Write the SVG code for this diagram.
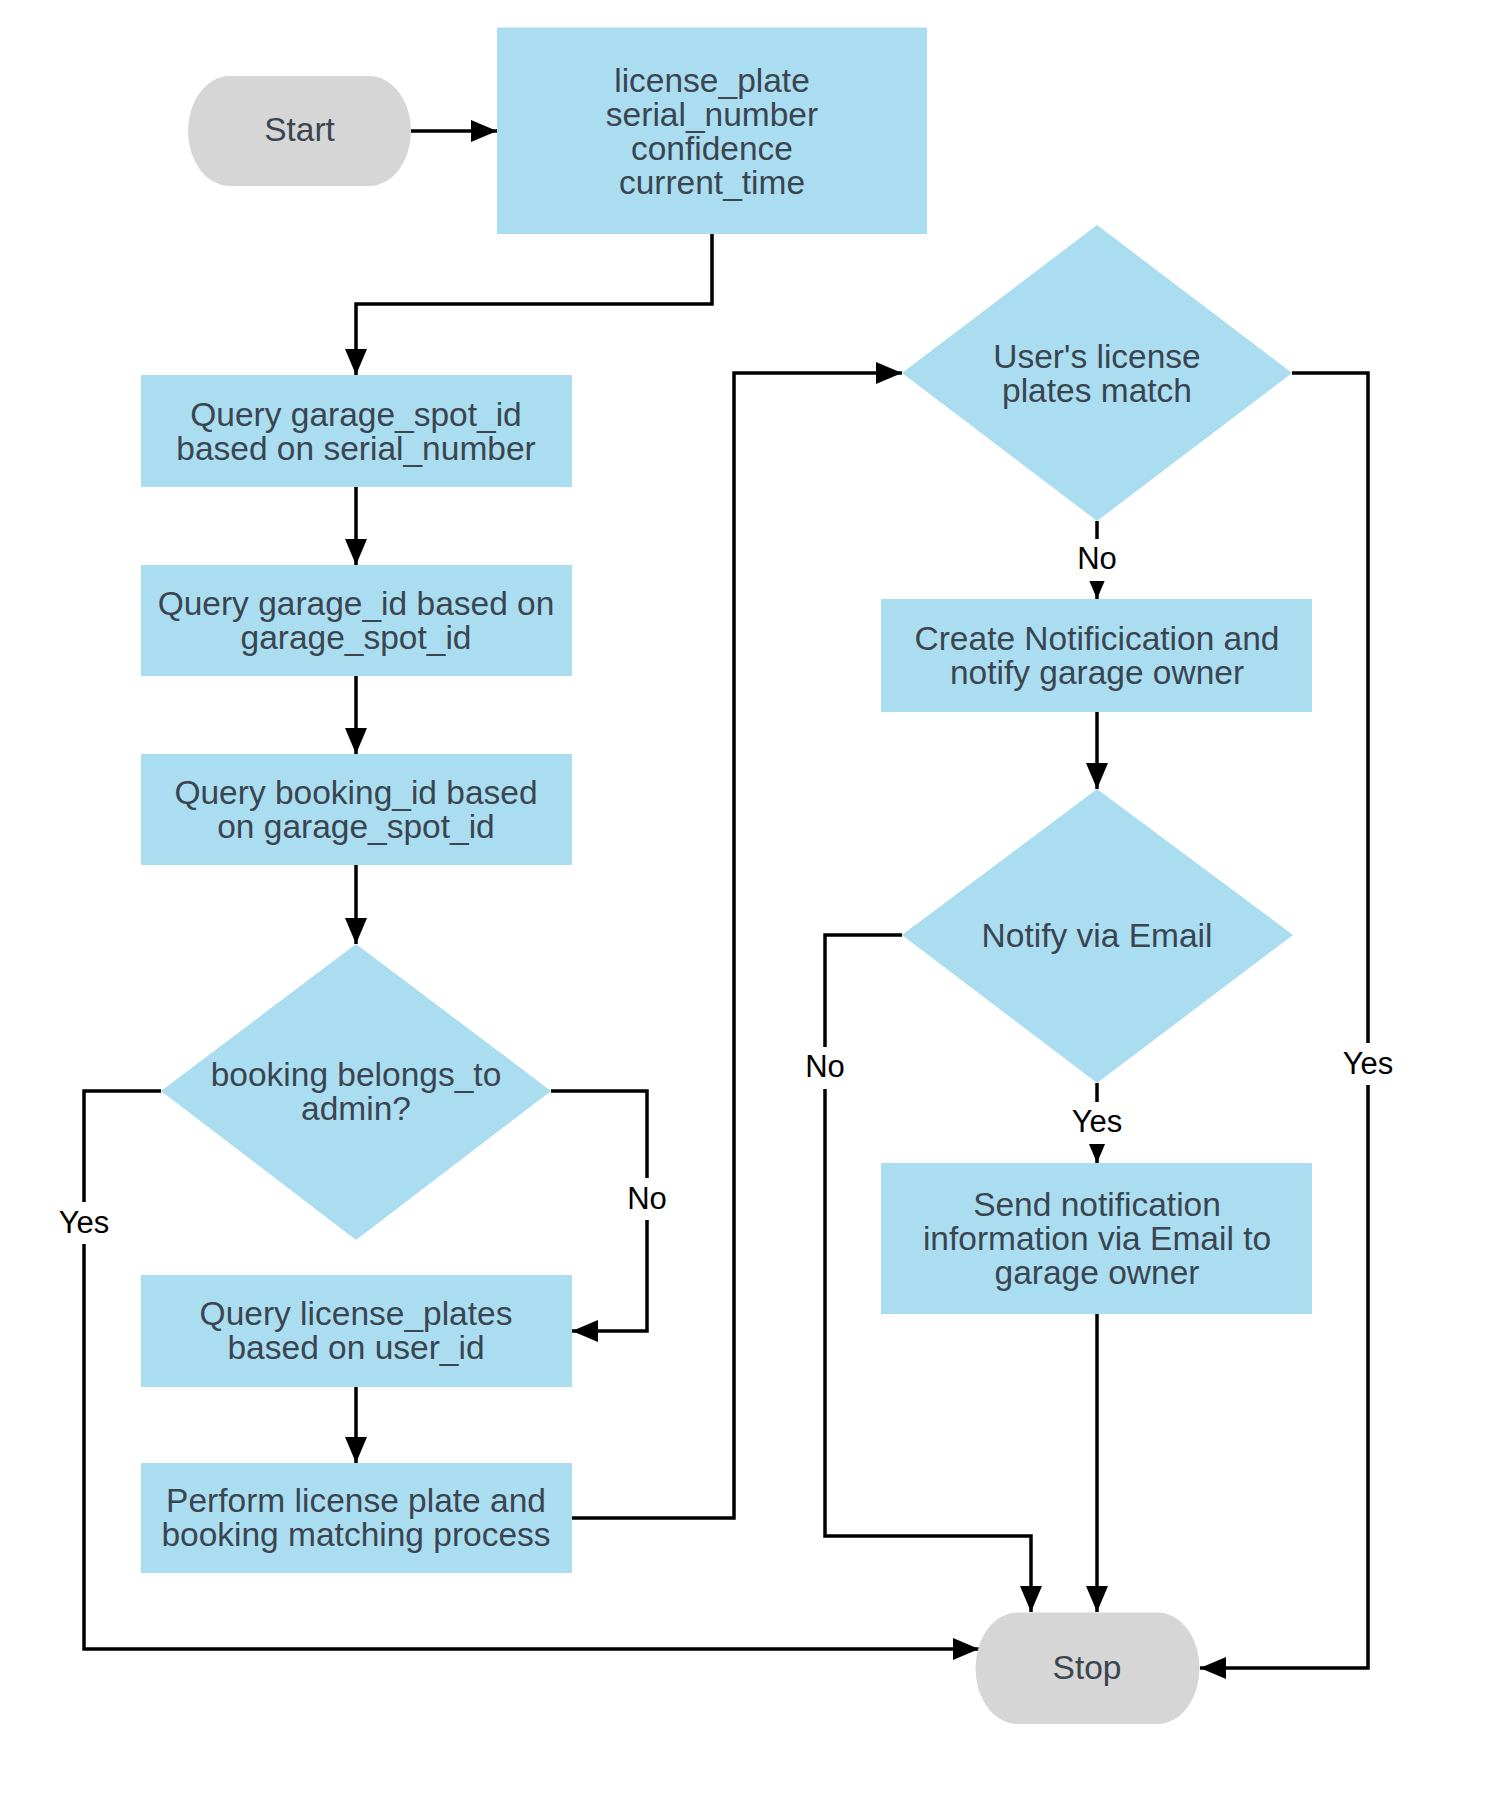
<svg xmlns="http://www.w3.org/2000/svg" width="1500" height="1800" viewBox="0 0 1500 1800">
<style>
.box{fill:#ABDDF1}
.term{fill:#D6D6D6}
.t{font-family:"Liberation Sans",Arial,sans-serif;font-size:33.5px;fill:#3A4550;text-anchor:middle;dominant-baseline:central}
.lbl{font-family:"Liberation Sans",Arial,sans-serif;font-size:31px;fill:#000;text-anchor:middle;dominant-baseline:central}
.lblbg{fill:#fff}
.edge{fill:none;stroke:#000;stroke-width:3.5;marker-end:url(#ah)}
</style>
<defs>
<marker id="ah" markerUnits="userSpaceOnUse" markerWidth="26" markerHeight="22" refX="26" refY="11" orient="auto">
<path d="M0,0 L26,11 L0,22 Z" fill="#000"/>
</marker>
</defs>
<rect width="1500" height="1800" fill="#fff"/>
<g id="connectors">
<path class="edge" d="M411,131 H497"/>
<path class="edge" d="M712,234 V304 H356 V375"/>
<path class="edge" d="M356,487 V565"/>
<path class="edge" d="M356,676 V754"/>
<path class="edge" d="M356,865 V944"/>
<path class="edge" d="M161,1091 H84 V1649 H979"/>
<path class="edge" d="M551,1091 H647 V1331 H572"/>
<path class="edge" d="M356,1387 V1463"/>
<path class="edge" d="M572,1518 H734 V373 H902"/>
<path class="edge" d="M1292,373 H1368 V1668 H1200"/>
<path class="edge" d="M1097,521 V599"/>
<path class="edge" d="M1097,712 V789"/>
<path class="edge" d="M902,935 H825 V1536 H1031 V1612"/>
<path class="edge" d="M1097,1083 V1163"/>
<path class="edge" d="M1097,1314 V1612"/>
<rect class="lblbg" x="62" y="1202" width="44" height="42"/>
<text class="lbl" x="84" y="1222">Yes</text>
<rect class="lblbg" x="630" y="1178" width="34" height="42"/>
<text class="lbl" x="647" y="1198">No</text>
<rect class="lblbg" x="1080" y="539" width="34" height="42"/>
<text class="lbl" x="1097" y="558">No</text>
<rect class="lblbg" x="1346" y="1043" width="44" height="42"/>
<text class="lbl" x="1368" y="1063">Yes</text>
<rect class="lblbg" x="808" y="1047" width="34" height="42"/>
<text class="lbl" x="825" y="1066">No</text>
<rect class="lblbg" x="1075" y="1102" width="44" height="42"/>
<text class="lbl" x="1097" y="1121">Yes</text>
</g>
<g id="start">
<rect class="term" x="188" y="76" width="223" height="110" rx="42" ry="55"/>
<text class="t" x="299.5" y="129">Start</text>
</g>
<g id="input">
<rect class="box" x="497" y="27.5" width="430" height="206.5"/>
<text class="t" x="712" y="80">license_plate</text>
<text class="t" x="712" y="114">serial_number</text>
<text class="t" x="712" y="148">confidence</text>
<text class="t" x="712" y="182">current_time</text>
</g>
<g id="q_spot">
<rect class="box" x="141" y="375" width="431" height="112"/>
<text class="t" x="356" y="414">Query garage_spot_id</text>
<text class="t" x="356" y="448">based on serial_number</text>
</g>
<g id="q_garage">
<rect class="box" x="141" y="565" width="431" height="111"/>
<text class="t" x="356" y="603">Query garage_id based on</text>
<text class="t" x="356" y="637">garage_spot_id</text>
</g>
<g id="q_booking">
<rect class="box" x="141" y="754" width="431" height="111"/>
<text class="t" x="356" y="792">Query booking_id based</text>
<text class="t" x="356" y="826">on garage_spot_id</text>
</g>
<g id="d_admin">
<polygon class="box" points="356,944 551,1091 356,1240 161,1091"/>
<text class="t" x="356" y="1074">booking belongs_to</text>
<text class="t" x="356" y="1108">admin?</text>
</g>
<g id="q_plates">
<rect class="box" x="141" y="1275" width="431" height="112"/>
<text class="t" x="356" y="1313">Query license_plates</text>
<text class="t" x="356" y="1347">based on user_id</text>
</g>
<g id="match">
<rect class="box" x="141" y="1463" width="431" height="110"/>
<text class="t" x="356" y="1500">Perform license plate and</text>
<text class="t" x="356" y="1534">booking matching process</text>
</g>
<g id="d_match">
<polygon class="box" points="1097,225 1292,373 1097,521 902,373"/>
<text class="t" x="1097" y="356">User's license</text>
<text class="t" x="1097" y="390">plates match</text>
</g>
<g id="create_notif">
<rect class="box" x="881" y="599" width="431" height="113"/>
<text class="t" x="1097" y="638">Create Notificication and</text>
<text class="t" x="1097" y="672">notify garage owner</text>
</g>
<g id="d_email">
<polygon class="box" points="1097,789 1293,935 1097,1083 902,935"/>
<text class="t" x="1097" y="935">Notify via Email</text>
</g>
<g id="send_email">
<rect class="box" x="881" y="1163" width="431" height="151"/>
<text class="t" x="1097" y="1204">Send notification</text>
<text class="t" x="1097" y="1238">information via Email to</text>
<text class="t" x="1097" y="1272">garage owner</text>
</g>
<g id="stop">
<rect class="term" x="975.5" y="1612.5" width="224" height="111.5" rx="42" ry="55.75"/>
<text class="t" x="1087" y="1667">Stop</text>
</g>
</svg>
